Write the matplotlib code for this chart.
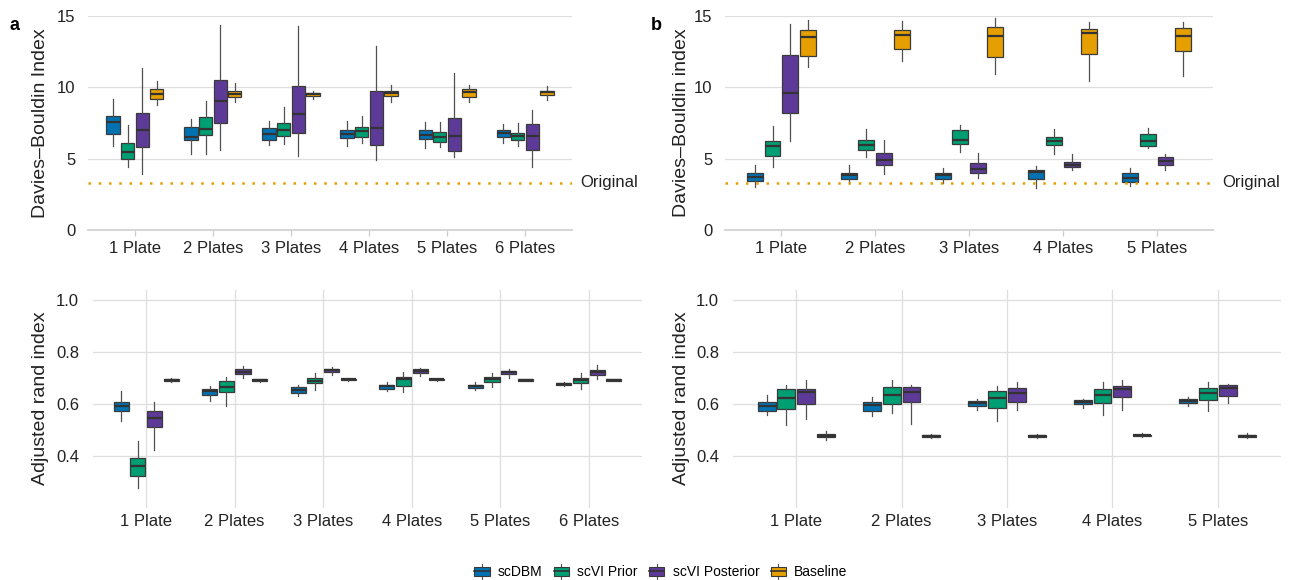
import matplotlib
matplotlib.use("Agg")
import matplotlib.pyplot as plt
from matplotlib.patches import Rectangle
from matplotlib.lines import Line2D
from matplotlib.legend_handler import HandlerBase

plt.rcParams['font.family'] = ['Liberation Sans', 'DejaVu Sans']

methods = ['scDBM', 'scVI Prior', 'scVI Posterior', 'Baseline']
colors = ['#0072B2', '#009E73', '#5E3A98', '#E69F00']
plates6 = ['1 Plate', '2 Plates', '3 Plates', '4 Plates', '5 Plates', '6 Plates']
plates5 = plates6[:5]
original_dbi = 3.3

# box stats: [whisker low, q1, median, q3, whisker high] per plate count
# panel a, Davies-Bouldin
dbi_a_scdbm = [[5.92, 6.74, 7.58, 7.98, 9.21], [5.32, 6.32, 6.55, 7.25, 7.81], [5.97, 6.30, 6.72, 7.14, 7.67],
               [5.88, 6.48, 6.72, 7.04, 7.67], [5.72, 6.41, 6.69, 7.04, 7.58], [6.11, 6.51, 6.83, 7.00, 7.42]]
dbi_a_prior = [[4.43, 4.97, 5.50, 6.13, 7.39], [5.32, 6.65, 7.07, 7.91, 9.03], [6.04, 6.58, 7.04, 7.51, 8.61],
               [6.11, 6.55, 6.95, 7.25, 7.98], [5.79, 6.18, 6.51, 6.90, 7.60], [5.90, 6.32, 6.58, 6.83, 7.49]]
dbi_a_post = [[3.90, 5.83, 7.00, 8.19, 11.36], [5.60, 7.51, 9.05, 10.52, 14.35], [5.20, 6.77, 8.14, 10.10, 14.28],
              [4.88, 5.97, 7.16, 9.75, 12.88], [5.13, 5.53, 6.60, 7.84, 11.01], [4.43, 5.60, 6.58, 7.42, 8.40]]
dbi_a_base = [[8.79, 9.19, 9.56, 9.91, 10.47], [8.96, 9.35, 9.56, 9.77, 10.29], [9.17, 9.38, 9.52, 9.63, 9.77],
              [8.98, 9.40, 9.59, 9.77, 10.17], [8.98, 9.35, 9.66, 9.87, 10.17], [9.14, 9.47, 9.66, 9.77, 10.12]]

# panel b, Davies-Bouldin
dbi_b_scdbm = [[3.03, 3.45, 3.73, 4.01, 4.54], [3.31, 3.59, 3.83, 4.01, 4.54], [3.31, 3.55, 3.83, 3.97, 4.32],
               [2.96, 3.55, 4.06, 4.18, 4.46], [3.08, 3.34, 3.64, 3.97, 4.32]]
dbi_b_prior = [[4.43, 5.18, 5.88, 6.25, 7.32], [5.11, 5.62, 5.99, 6.30, 7.11], [5.44, 6.06, 6.34, 7.00, 7.39],
               [5.30, 5.95, 6.27, 6.55, 7.11], [5.72, 5.92, 6.27, 6.72, 7.18]]
dbi_b_post = [[6.27, 8.23, 9.59, 12.29, 14.46], [3.94, 4.55, 4.92, 5.37, 6.34], [3.66, 4.01, 4.27, 4.67, 5.41],
              [4.18, 4.39, 4.57, 4.78, 5.30], [4.18, 4.53, 4.81, 5.09, 5.30]]
dbi_b_base = [[11.43, 12.20, 13.53, 14.04, 14.70], [11.83, 12.69, 13.67, 14.00, 14.63], [10.92, 12.15, 13.62, 14.23, 14.88],
              [10.43, 12.36, 13.79, 14.09, 14.60], [10.78, 12.53, 13.58, 14.16, 14.58]]

# panel a, adjusted rand index
ari_a_scdbm = [[0.533, 0.572, 0.590, 0.608, 0.648], [0.610, 0.635, 0.648, 0.658, 0.669], [0.630, 0.642, 0.653, 0.664, 0.673],
               [0.649, 0.658, 0.666, 0.672, 0.685], [0.651, 0.659, 0.667, 0.673, 0.685], [0.666, 0.671, 0.675, 0.678, 0.682]]
ari_a_prior = [[0.276, 0.323, 0.359, 0.389, 0.456], [0.592, 0.646, 0.664, 0.686, 0.702], [0.653, 0.678, 0.689, 0.700, 0.717],
               [0.645, 0.669, 0.694, 0.704, 0.720], [0.664, 0.685, 0.695, 0.703, 0.717], [0.657, 0.678, 0.690, 0.700, 0.716]]
ari_a_post = [[0.423, 0.510, 0.546, 0.573, 0.608], [0.699, 0.713, 0.723, 0.732, 0.743], [0.711, 0.721, 0.729, 0.735, 0.741],
              [0.707, 0.717, 0.726, 0.734, 0.738], [0.700, 0.713, 0.720, 0.726, 0.732], [0.696, 0.711, 0.722, 0.730, 0.748]]
ari_a_base = [[0.684, 0.686, 0.691, 0.695, 0.699], [0.685, 0.687, 0.691, 0.694, 0.696], [0.687, 0.690, 0.693, 0.695, 0.698],
              [0.689, 0.690, 0.693, 0.695, 0.696], [0.687, 0.689, 0.691, 0.694, 0.695], [0.687, 0.689, 0.691, 0.694, 0.695]]

# panel b, adjusted rand index
ari_b_scdbm = [[0.555, 0.573, 0.589, 0.608, 0.632], [0.553, 0.573, 0.596, 0.606, 0.626], [0.577, 0.592, 0.601, 0.609, 0.619],
               [0.585, 0.597, 0.605, 0.613, 0.619], [0.589, 0.604, 0.612, 0.618, 0.626]]
ari_b_prior = [[0.517, 0.578, 0.623, 0.656, 0.673], [0.563, 0.600, 0.635, 0.665, 0.690], [0.533, 0.585, 0.623, 0.650, 0.667],
               [0.556, 0.604, 0.635, 0.658, 0.682], [0.572, 0.615, 0.641, 0.660, 0.682]]
ari_b_post = [[0.540, 0.600, 0.644, 0.655, 0.691], [0.521, 0.605, 0.646, 0.664, 0.673], [0.576, 0.605, 0.641, 0.661, 0.682],
              [0.577, 0.627, 0.656, 0.669, 0.690], [0.601, 0.628, 0.660, 0.670, 0.677]]
ari_b_base = [[0.461, 0.472, 0.477, 0.482, 0.493], [0.469, 0.473, 0.477, 0.481, 0.484], [0.466, 0.472, 0.476, 0.480, 0.484],
              [0.471, 0.475, 0.478, 0.481, 0.485], [0.469, 0.472, 0.477, 0.481, 0.487]]

GRID = '#DEDEDE'
TXT = '#222222'
W, H = 1293, 580


def draw_boxes(ax, series, labels):
    n = len(labels)
    for k, (vals, col) in enumerate(zip(series, colors)):
        pos = [i + 1 + (k - 1.5) * 0.1875 for i in range(n)]
        stats = [dict(whislo=s[0], q1=s[1], med=s[2], q3=s[3], whishi=s[4]) for s in vals]
        ax.bxp(stats, positions=pos, widths=0.17, showfliers=False, showcaps=False,
               patch_artist=True, manage_ticks=False,
               boxprops=dict(facecolor=col, edgecolor='#3a3a3a', linewidth=0.9),
               medianprops=dict(color='#333333', linewidth=1.6),
               whiskerprops=dict(color='#505050', linewidth=0.9))
    ax.set_xlim(0.4, n + 0.6)
    ax.set_xticks(range(1, n + 1))
    ax.set_xticklabels(labels, fontsize=12, color=TXT)
    ax.set_axisbelow(True)
    for s in ax.spines.values():
        s.set_visible(False)


def px_axes(x0, x1, y0, y1):
    return fig.add_axes([x0 / W, 1 - y1 / H, (x1 - x0) / W, (y1 - y0) / H])


fig = plt.figure(figsize=(12.93, 5.8), dpi=100)

ax_a1 = px_axes(88, 572, 16, 230)
ax_b1 = px_axes(725, 1213, 16, 230)
ax_a2 = px_axes(93, 642, 290, 507.5)
ax_b2 = px_axes(733, 1281, 290, 507.5)

for ax, series, labels in [(ax_a1, [dbi_a_scdbm, dbi_a_prior, dbi_a_post, dbi_a_base], plates6),
                           (ax_b1, [dbi_b_scdbm, dbi_b_prior, dbi_b_post, dbi_b_base], plates5)]:
    draw_boxes(ax, series, labels)
    ax.set_ylim(0, 15)
    ax.set_yticks([0, 5, 10, 15])
    ax.set_yticklabels(['0', '5', '10', '15'], fontsize=12, color=TXT)
    ax.grid(axis='y', color=GRID, linewidth=0.9)
    ax.spines['bottom'].set_visible(True)
    ax.spines['bottom'].set_color('#D6D6D6')
    ax.spines['bottom'].set_linewidth(1.4)
    ax.tick_params(axis='y', length=0, pad=9)
    ax.tick_params(axis='x', length=4, width=0.9, color='#CCCCCC', pad=4)
    ax.axhline(original_dbi, color='#E69F00', linewidth=1.8, linestyle=(0, (1, 3.1)))
    ax.text(1.018, original_dbi, 'Original', transform=ax.get_yaxis_transform(),
            ha='left', va='center', fontsize=12, color=TXT)

for ax, series, labels in [(ax_a2, [ari_a_scdbm, ari_a_prior, ari_a_post, ari_a_base], plates6),
                           (ax_b2, [ari_b_scdbm, ari_b_prior, ari_b_post, ari_b_base], plates5)]:
    draw_boxes(ax, series, labels)
    ax.set_ylim(0.2, 1.0375)
    ax.set_yticks([0.4, 0.6, 0.8, 1.0])
    ax.set_yticklabels(['0.4', '0.6', '0.8', '1.0'], fontsize=12, color=TXT)
    ax.grid(True, color=GRID, linewidth=0.9)
    ax.tick_params(length=0)
    ax.tick_params(axis='y', pad=10)
    ax.tick_params(axis='x', pad=5)

fig.text(41 / W, 1 - 123 / H, 'Davies\u2013Bouldin Index', rotation=90, ha='center', va='center', fontsize=14, color=TXT)
fig.text(682 / W, 1 - 123 / H, 'Davies\u2013Bouldin index', rotation=90, ha='center', va='center', fontsize=14, color=TXT)
fig.text(41 / W, 1 - 398 / H, 'Adjusted rand index', rotation=90, ha='center', va='center', fontsize=14, color=TXT)
fig.text(681 / W, 1 - 398 / H, 'Adjusted rand index', rotation=90, ha='center', va='center', fontsize=14, color=TXT)
fig.text(15 / W, 1 - 25 / H, 'a', ha='center', va='center', fontsize=13, fontweight='bold')
fig.text(656 / W, 1 - 25 / H, 'b', ha='center', va='center', fontsize=13, fontweight='bold')


class BoxHandler(HandlerBase):
    def create_artists(self, legend, orig_handle, xdescent, ydescent, width, height, fontsize, trans):
        x0, y0 = -xdescent, -ydescent
        col = orig_handle.get_facecolor()
        whisk = Line2D([x0 + width / 2] * 2, [y0 - height * 0.15, y0 + height * 1.15],
                       color='#505050', linewidth=0.8, transform=trans)
        box = Rectangle((x0, y0 + height * 0.1), width, height * 0.8, facecolor=col,
                        edgecolor='#3a3a3a', linewidth=0.8, transform=trans)
        med = Line2D([x0, x0 + width], [y0 + height / 2] * 2, color='#333333',
                     linewidth=1.2, transform=trans)
        return [whisk, box, med]


handles = [Rectangle((0, 0), 1, 1, facecolor=c) for c in colors]
fig.legend(handles, methods, loc='center', bbox_to_anchor=(661 / W, 1 - 572 / H), ncol=4,
           frameon=False, fontsize=10, handlelength=1.1, handleheight=0.9, handletextpad=0.6,
           columnspacing=0.8, handler_map={Rectangle: BoxHandler()})

fig.savefig('out.png', dpi=100)
